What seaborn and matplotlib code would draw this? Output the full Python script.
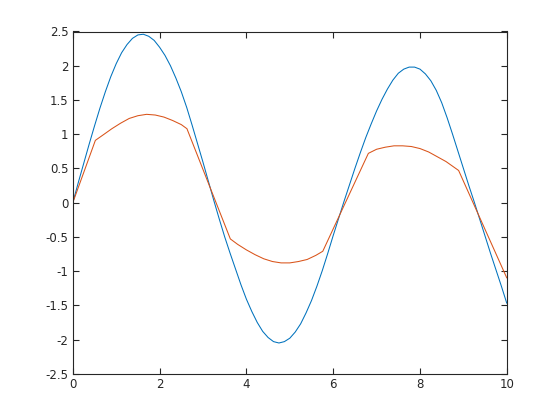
import matplotlib
matplotlib.use("Agg")
import matplotlib.pyplot as plt
import seaborn as sns
import pandas as pd

# values
blue_x = [0, 0.125, 0.25, 0.375, 0.5, 0.625, 0.75, 0.875, 1.0, 1.125,
          1.25, 1.375, 1.5, 1.625, 1.75, 1.875, 2.0, 2.125, 2.25, 2.375,
          2.5, 2.625, 2.75, 2.875, 3.0, 3.125, 3.25, 3.375, 3.5, 3.625,
          3.75, 3.875, 4.0, 4.125, 4.25, 4.375, 4.5, 4.625, 4.75, 4.875,
          5.0, 5.125, 5.25, 5.375, 5.5, 5.625, 5.75, 5.875, 6.0, 6.125,
          6.25, 6.375, 6.5, 6.625, 6.75, 6.875, 7.0, 7.125, 7.25, 7.375,
          7.5, 7.625, 7.75, 7.875, 8.0, 8.125, 8.25, 8.375, 8.5, 8.625,
          8.75, 8.875, 9.0, 9.125, 9.25, 9.375, 9.5, 9.625, 9.75, 9.875, 10.0]
blue_y = [0.00, 0.29, 0.57, 0.85, 1.12, 1.38, 1.62, 1.84, 2.03, 2.19,
          2.31, 2.40, 2.45, 2.46, 2.43, 2.37, 2.27, 2.15, 2.00, 1.82,
          1.62, 1.39, 1.13, 0.86, 0.59, 0.31, 0.03, -0.24, -0.50, -0.74,
          -0.97, -1.20, -1.41, -1.59, -1.75, -1.88, -1.97, -2.03, -2.05, -2.03,
          -1.98, -1.89, -1.77, -1.61, -1.43, -1.22, -0.99, -0.74, -0.48, -0.23,
          0.02, 0.26, 0.50, 0.73, 0.95, 1.15, 1.34, 1.51, 1.66, 1.79,
          1.89, 1.95, 1.98, 1.98, 1.95, 1.88, 1.78, 1.64, 1.46, 1.24,
          1.00, 0.75, 0.50, 0.25, 0.01, -0.24, -0.49, -0.74, -0.98, -1.22, -1.47]

orange_x = [0, 0.52, 0.7, 0.9, 1.1, 1.3, 1.5, 1.7, 1.9, 2.1, 2.3, 2.5, 2.63, 3.63,
            3.8, 4.0, 4.2, 4.4, 4.6, 4.8, 5.0, 5.2, 5.4, 5.6, 5.76, 6.81, 7.0, 7.2,
            7.4, 7.6, 7.8, 8.0, 8.2, 8.4, 8.6, 8.89, 10.0]
orange_y = [0.0, 0.91, 0.99, 1.08, 1.16, 1.23, 1.27, 1.29, 1.28, 1.25, 1.20, 1.14, 1.08, -0.53,
            -0.61, -0.69, -0.76, -0.82, -0.86, -0.88, -0.88, -0.86, -0.83, -0.77, -0.71, 0.72,
            0.78, 0.81, 0.83, 0.83, 0.82, 0.79, 0.74, 0.67, 0.60, 0.47, -1.10]

x_ticks = [0, 2, 4, 6, 8, 10]
y_ticks = [-2.5, -2, -1.5, -1, -0.5, 0, 0.5, 1, 1.5, 2, 2.5]

sns.set_style("white")
plt.rcParams['font.family'] = ['DejaVu Sans']

fig = plt.figure(figsize=(5.6, 4.2), dpi=100)
ax = fig.add_axes([0.13, 0.11, 0.775, 0.815])

blue = pd.DataFrame({'x': blue_x, 'y': blue_y})
orange = pd.DataFrame({'x': orange_x, 'y': orange_y})
sns.lineplot(data=blue, x='x', y='y', ax=ax, color='#0072BD', linewidth=0.75,
             sort=False, estimator=None)
sns.lineplot(data=orange, x='x', y='y', ax=ax, color='#D95319', linewidth=0.75,
             sort=False, estimator=None)

ax.set_xlim(0, 10)
ax.set_ylim(-2.5, 2.5)
ax.set_xticks(x_ticks)
ax.set_xticklabels([f"{t:g}" for t in x_ticks])
ax.set_yticks(y_ticks)
ax.set_yticklabels([f"{t:g}" for t in y_ticks])
ax.set_xlabel('')
ax.set_ylabel('')

for side in ax.spines.values():
    side.set_color('#262626')
    side.set_linewidth(0.8)
ax.tick_params(direction='in', length=4, width=0.8, color='#262626',
               labelcolor='#262626', labelsize=8.5, top=True, right=True,
               bottom=True, left=True, pad=3)

fig.savefig('out.png', dpi=100)
